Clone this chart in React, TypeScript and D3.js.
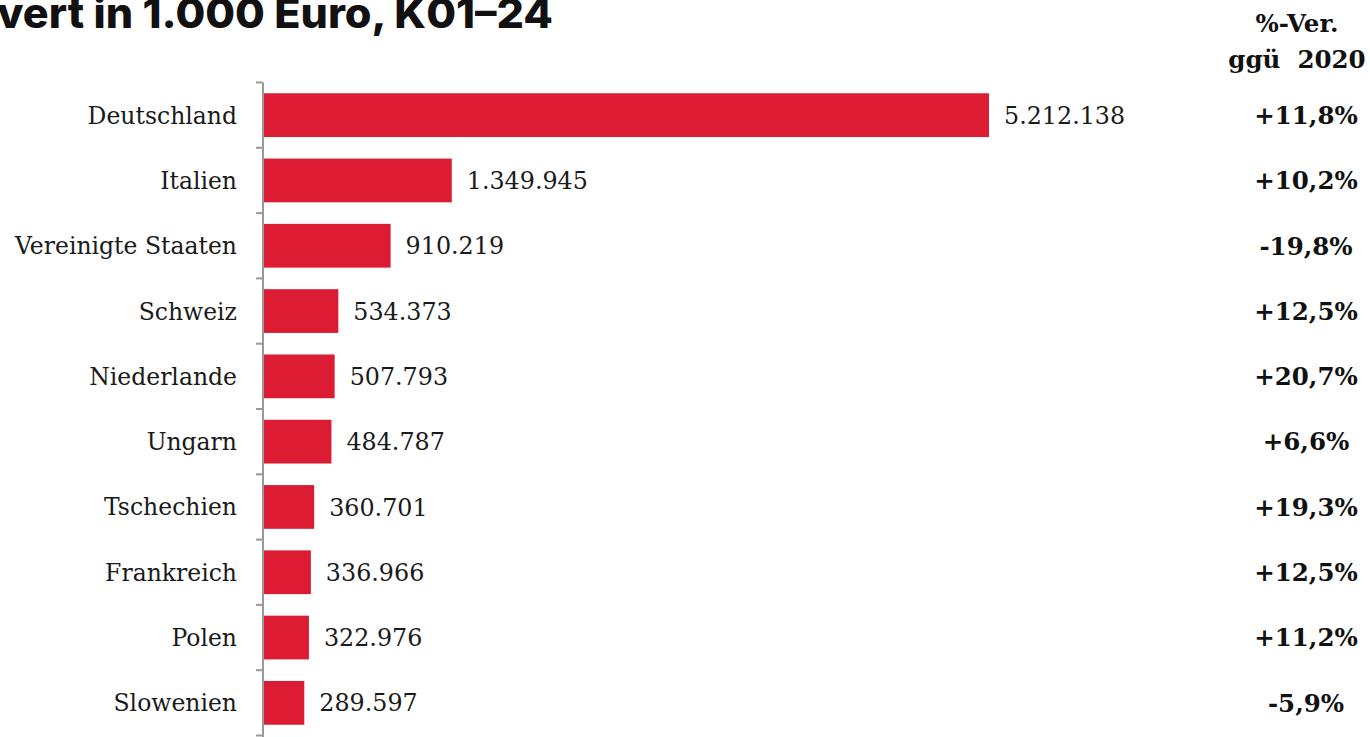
import React from "react";
import * as d3 from "d3";

const categories = [
  "Deutschland",
  "Italien",
  "Vereinigte Staaten",
  "Schweiz",
  "Niederlande",
  "Ungarn",
  "Tschechien",
  "Frankreich",
  "Polen",
  "Slowenien",
];
const values = [5212138, 1349945, 910219, 534373, 507793, 484787, 360701, 336966, 322976, 289597];
const changes = ["+11,8%", "+10,2%", "-19,8%", "+12,5%", "+20,7%", "+6,6%", "+19,3%", "+12,5%", "+11,2%", "-5,9%"];
const title = "vert in 1.000 Euro, K01–24";
const header = ["%-Ver.", "ggü  2020"];

const W = 1370;
const H = 737;
const fmt = (v: number) => d3.format(",")(v).replace(/,/g, ".");

export default function App() {
  const x = d3.scaleLinear().domain([0, d3.max(values) as number]).range([264, 989]);
  const y = d3
    .scaleBand<string>()
    .domain(categories)
    .range([82.5, 735.5])
    .paddingInner(0.33)
    .paddingOuter(0.165);
  const step = y.step();
  const off = (step - y.bandwidth()) / 2;
  const ticks = categories.map((c) => (y(c) as number) - off);
  ticks.push((y(categories[categories.length - 1]) as number) + y.bandwidth() + off);
  const serif = "'DejaVu Serif', serif";
  const colX = 1306;

  return (
    <div style={{ position: "absolute", left: 0, top: 0, width: W, height: H, background: "#fff" }}>
      <svg width={W} height={H} style={{ display: "block" }}>
        <text
          x={-3}
          y={28}
          textLength={556}
          lengthAdjust="spacingAndGlyphs"
          fontFamily="Inter, Roboto, sans-serif"
          fontWeight={800}
          fontSize={41}
          fill="#111"
        >
          {title}
        </text>
        {header.map((h, i) => (
          <text
            key={h}
            x={1297}
            y={32 + i * 36}
            textAnchor="middle"
            fontFamily={serif}
            fontWeight="bold"
            fontSize={24.5}
            fill="#111"
            style={{ whiteSpace: "pre" }}
          >
            {h}
          </text>
        ))}
        {categories.map((c, i) => {
          const yy = y(c) as number;
          const cy = yy + y.bandwidth() / 2;
          return (
            <g key={c}>
              <rect x={x(0)} y={yy} width={x(values[i]) - x(0)} height={y.bandwidth()} fill="#DC1C33" />
              <text
                x={237}
                y={cy}
                dy="0.36em"
                textAnchor="end"
                fontFamily={serif}
                fontSize={23.5}
                fill="#1a1a1a"
              >
                {c}
              </text>
              <text
                x={x(values[i]) + 15}
                y={cy}
                dy="0.36em"
                fontFamily={serif}
                fontSize={23.8}
                fill="#1a1a1a"
              >
                {fmt(values[i])}
              </text>
              <text
                x={colX}
                y={cy}
                dy="0.36em"
                textAnchor="middle"
                fontFamily={serif}
                fontWeight="bold"
                fontSize={24.5}
                fill="#111"
              >
                {changes[i]}
              </text>
            </g>
          );
        })}
        <line x1={263} x2={263} y1={ticks[0]} y2={H} stroke="#999" strokeWidth={2} />
        {ticks.map((t, i) => (
          <line key={i} x1={256} x2={263} y1={t} y2={t} stroke="#999" strokeWidth={2} />
        ))}
      </svg>
    </div>
  );
}
